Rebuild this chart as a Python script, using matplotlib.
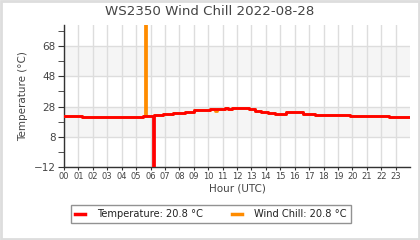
import matplotlib

matplotlib.use("Agg")
import matplotlib.pyplot as plt
from matplotlib.patches import Rectangle

# step data (hour of day, value from that hour onwards)
temp_hours = [0, 1.23, 5.5, 6.2, 6.27, 6.89, 7.58, 8.4, 9.04, 10.12, 11.17, 11.4,
              11.63, 12.83, 13.24, 13.66, 14.13, 14.63, 15.4, 16.6, 17.4, 18.4,
              19.83, 22.56, 24]
temp_vals = [21.6, 20.8, 21.5, -25, 22.1, 22.8, 23.5, 24.6, 25.5, 26.1, 27.0, 26.1,
             27.0, 26.1, 25.2, 24.6, 23.7, 23.2, 24.1, 23.2, 22.6, 22.1,
             21.5, 20.8, 20.8]

chill_hours = [0, 1.23, 5.5, 5.63, 5.71, 6.27, 6.89, 7.58, 8.4, 9.04, 10.12, 10.5,
               10.6, 11.17, 11.4, 11.63, 12.83, 13.24, 13.66, 14.13, 14.63, 15.4,
               16.6, 17.4, 18.4, 19.83, 22.56, 24]
chill_vals = [21.6, 20.8, 21.5, 110, 21.5, 22.1, 22.8, 23.5, 24.6, 25.5, 26.1, 25.3,
              26.1, 27.0, 26.1, 27.0, 26.1, 25.2, 24.6, 23.7, 23.2, 24.1,
              23.2, 22.6, 22.1, 21.5, 20.8, 20.8]

hour_labels = [f"{h:02d}" for h in range(24)]
y_major = [-12, 8, 28, 48, 68]
y_minor = [-2, 18, 38, 58, 78]
bands = [(8, 28), (48, 68)]

last_temp = "20.8"
last_chill = "20.8"

TEXT = "#444444"
GRID = "#dddddd"

fig = plt.figure(figsize=(4.2, 2.4), dpi=100)
ax = fig.add_axes([64 / 420, 1 - 167 / 240, 346 / 420, 142 / 240])

for lo, hi in bands:
    ax.axhspan(lo, hi, color="#f5f5f5", zorder=0, lw=0)

ax.plot(chill_hours, chill_vals, drawstyle="steps-post", color="#ff8c00", lw=2,
        label=f"Wind Chill: {last_chill} °C", zorder=3)
ax.plot(temp_hours, temp_vals, drawstyle="steps-post", color="#ff0000", lw=2,
        label=f"Temperature: {last_temp} °C", zorder=4)

ax.set_xlim(0, 24)
ax.set_ylim(-12, 82)
ax.set_xticks(range(24))
ax.set_xticklabels(hour_labels)
ax.set_yticks(y_major)
ax.set_yticks(y_minor, minor=True)
ax.grid(True, which="major", color=GRID, lw=1, zorder=1)
ax.set_axisbelow(True)

for side in ("top", "right"):
    ax.spines[side].set_visible(False)
for side in ("left", "bottom"):
    ax.spines[side].set_color("#333333")
    ax.spines[side].set_linewidth(1)

ax.tick_params(axis="y", which="major", labelsize=7.5, colors="#333333",
               labelcolor=TEXT, length=4, pad=2)
ax.tick_params(axis="y", which="minor", colors="#333333", length=4)
ax.tick_params(axis="x", labelsize=6, colors="#333333", labelcolor=TEXT,
               length=2, pad=1.5)

ax.set_xlabel("Hour (UTC)", fontsize=7.5, color=TEXT, labelpad=2)
ax.set_ylabel("Temperature (°C)", fontsize=7.5, color=TEXT, labelpad=4)
fig.text(0.5, 0.953, "WS2350 Wind Chill 2022-08-28", ha="center", va="center",
         fontsize=9.6, color=TEXT)

handles, labels = ax.get_legend_handles_labels()
leg = fig.legend(handles[::-1], labels[::-1], loc="center",
                 bbox_to_anchor=(0.502, 0.108), ncol=2, fontsize=7.1,
                 frameon=True, fancybox=False, handlelength=1.0,
                 columnspacing=3.0, handletextpad=1.2, borderpad=0.4)
leg.get_frame().set_edgecolor("#777777")
leg.get_frame().set_linewidth(1)
for line in leg.get_lines():
    line.set_linewidth(2.5)
for t in leg.get_texts():
    t.set_color("#222222")

fig.patches.append(Rectangle((0.002, 0.003), 0.996, 0.994, transform=fig.transFigure,
                             fill=False, edgecolor="#dddddd", lw=2))

fig.savefig("out.png", dpi=100)
